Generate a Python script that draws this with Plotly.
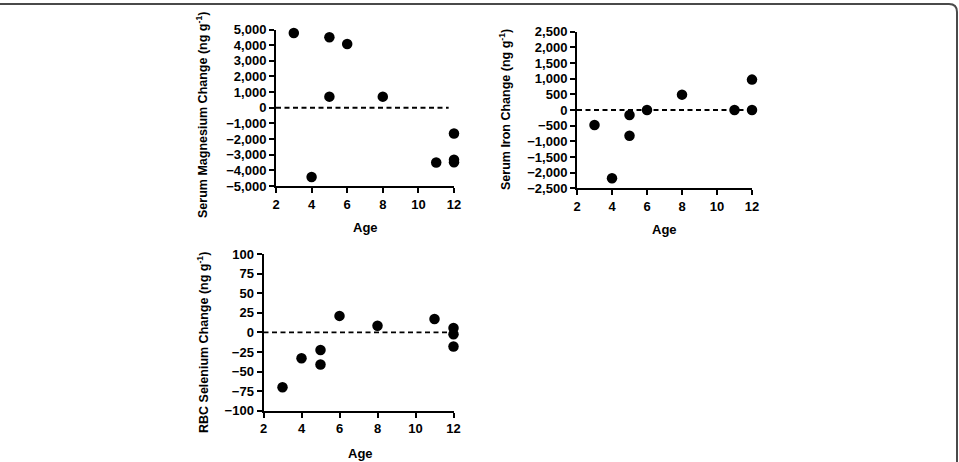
import plotly.graph_objects as go

W, H = 959, 462

# ---- data ----
age_mg = [3, 4, 5, 5, 6, 8, 11, 12, 12, 12]
mg_change = [4780, -4430, 4500, 710, 4070, 710, -3500, -1650, -3320, -3480]

age_fe = [3, 4, 5, 5, 6, 8, 11, 12, 12]
fe_change = [-480, -2180, -160, -820, 0, 490, 0, 970, 0]

age_se = [3, 4, 5, 5, 6, 8, 11, 12, 12, 12]
se_change = [-70, -33, -22.5, -41, 21, 8.5, 17, 5.5, -2.5, -18]

x_ticks = [2, 4, 6, 8, 10, 12]
mg_ticks = list(range(-5000, 5001, 1000))
fe_ticks = list(range(-2500, 2501, 500))
se_ticks = list(range(-100, 101, 25))

FONT = "Liberation Sans, Arial, sans-serif"

def px(x):
    return x / W

def py(y):
    return 1 - y / H

fig = go.Figure()

panels = [
    dict(x=age_mg, y=mg_change, ticks=mg_ticks, rng=[-5000, 5000],
         xd=[276, 454], yd=[29.5, 186], ax="x", ay="y",
         title="Serum Magnesium Change (ng g<sup>-1</sup>)", tx=202, ty=115, agex=365, agey=228),
    dict(x=age_fe, y=fe_change, ticks=fe_ticks, rng=[-2500, 2500],
         xd=[577, 752], yd=[31.7, 188.3], ax="x2", ay="y2",
         title="Serum Iron Change (ng g<sup>-1</sup>)", tx=505, ty=110, agex=664, agey=229),
    dict(x=age_se, y=se_change, ticks=se_ticks, rng=[-100, 100],
         xd=[263.5, 453.5], yd=[254, 410.7], ax="x3", ay="y3",
         title="RBC Selenium Change (ng g<sup>-1</sup>)", tx=203, ty=343, agex=360, agey=453),
]

annotations = []
shapes = []
for i, p in enumerate(panels):
    sfx = "" if i == 0 else str(i + 1)
    fig.add_trace(go.Scatter(
        x=p["x"], y=p["y"], mode="markers", xaxis=p["ax"], yaxis=p["ay"],
        marker=dict(size=10.5, color="black"), cliponaxis=False, showlegend=False))
    fig.layout["xaxis" + sfx] = dict(
        domain=[px(p["xd"][0]), px(p["xd"][1])], range=[2, 12], anchor=p["ay"],
        tickvals=x_ticks, ticks="outside", ticklen=5, tickwidth=2, tickcolor="black",
        showline=True, linecolor="black", linewidth=2, showgrid=False, zeroline=False,
        tickfont=dict(family=FONT, size=13, color="black", weight="bold"))
    fig.layout["yaxis" + sfx] = dict(
        domain=[py(p["yd"][1]), py(p["yd"][0])], range=p["rng"], anchor=p["ax"],
        tickvals=p["ticks"], tickformat=",d", ticks="outside", ticklen=5, tickwidth=2,
        tickcolor="black", showline=True, linecolor="black", linewidth=2,
        showgrid=False, zeroline=False,
        tickfont=dict(family=FONT, size=13, color="black", weight="bold"))
    shapes.append(dict(type="line", xref=p["ax"], yref=p["ay"], x0=2, x1=11.7, y0=0, y1=0,
                       line=dict(color="black", width=1.8, dash="5px,3.5px")))
    annotations.append(dict(text="<b>" + p["title"] + "</b>", textangle=-90,
                            xref="paper", yref="paper",
                            x=px(p["tx"]), y=py(p["ty"]), showarrow=False,
                            xanchor="center", yanchor="middle",
                            font=dict(family=FONT, size=12.5, color="black")))
    annotations.append(dict(text="<b>Age</b>", xref="paper", yref="paper",
                            x=px(p["agex"]), y=py(p["agey"]), showarrow=False,
                            xanchor="center", yanchor="middle",
                            font=dict(family=FONT, size=13, color="black")))

# outer rounded frame
r = 8
path = (f"M {px(0)},{py(4)} L {px(957 - r)},{py(4)} "
        f"Q {px(957)},{py(4)} {px(957)},{py(4 + r)} L {px(957)},{py(470)}")
shapes.append(dict(type="path", xref="paper", yref="paper", path=path,
                   line=dict(color="#4a4a4a", width=2)))

fig.update_layout(width=W, height=H, autosize=False,
                  margin=dict(l=0, r=0, t=0, b=0, autoexpand=False),
                  paper_bgcolor="white", plot_bgcolor="white",
                  shapes=shapes, annotations=annotations)

post = """
document.documentElement.style.margin='0';
document.documentElement.style.overflow='hidden';
document.body.style.margin='0';
document.body.style.padding='0';
document.body.style.overflow='hidden';
var gd = document.getElementById('{plot_id}');
gd.style.width='959px'; gd.style.height='462px';
Plotly.relayout(gd, {width: 959, height: 462});
"""

fig.write_html("out.html", post_script=post)
